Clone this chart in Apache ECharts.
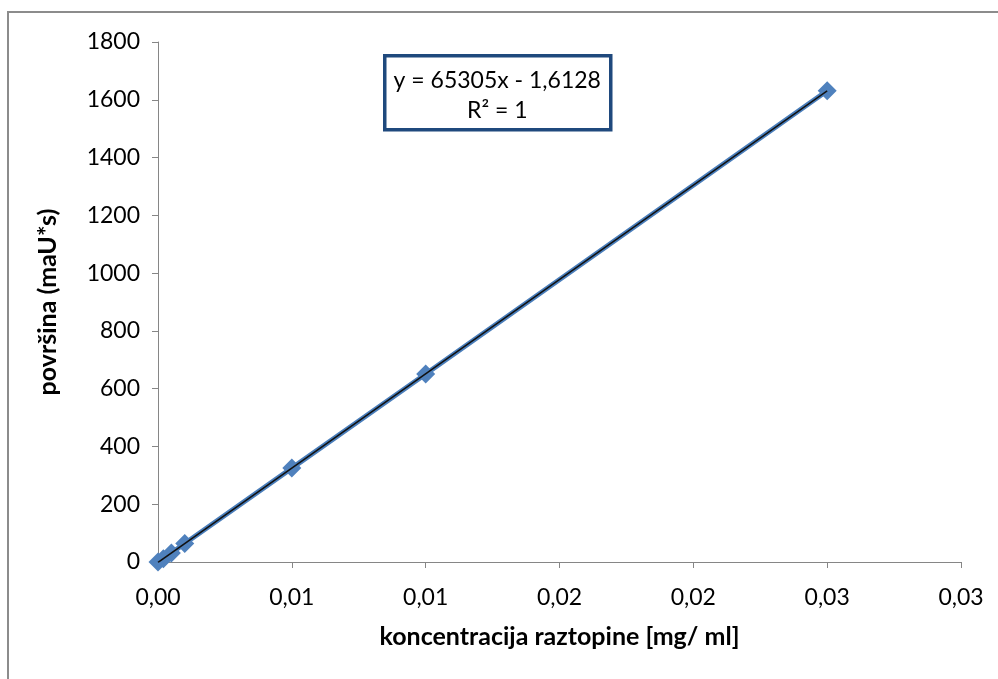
<!DOCTYPE html>
<html>
<head>
<meta charset="utf-8">
<script src="https://cdn.jsdelivr.net/npm/echarts@6/dist/echarts.min.js"></script>
<style>
html,body{margin:0;padding:0;background:#fff;}
#wrap{position:relative;width:998px;height:679px;overflow:hidden;}
#chart{position:absolute;left:0;top:0;width:998px;height:679px;}
#frame{position:absolute;left:7px;top:11px;width:1200px;height:900px;border-left:2px solid #8c8c8c;border-top:2px solid #8c8c8c;pointer-events:none;}
</style>
</head>
<body>
<div id="wrap"><div id="chart"></div><div id="frame"></div></div>
<script>
// Data
const concentration = [0, 0.0002, 0.0005, 0.001, 0.005, 0.01, 0.025];
const area = [0, 11, 31, 64, 325, 651, 1631];
const trendX = [0, 0.025];
const trendY = [-1.6, 1631];
const xTickLabels = ['0,00', '0,01', '0,01', '0,02', '0,02', '0,03', '0,03'];
const yTicks = [0, 200, 400, 600, 800, 1000, 1200, 1400, 1600, 1800];
const equationLines = ['y = 65305x - 1,6128', 'R² = 1'];

const FONT = 'Lato';
const chart = echarts.init(document.getElementById('chart'), null, {renderer: 'canvas'});
const option = {
  animation: false,
  backgroundColor: '#fff',
  grid: {left: 158, right: 37, top: 42, bottom: 117, containLabel: false},
  xAxis: {
    type: 'value', min: 0, max: 0.03, interval: 0.005,
    name: 'koncentracija raztopine [mg/ ml]',
    nameLocation: 'middle', nameGap: 62,
    nameTextStyle: {fontFamily: FONT, fontWeight: 'bold', fontSize: 25, color: '#000'},
    axisLine: {show: true, lineStyle: {color: '#868686', width: 1}},
    axisTick: {show: true, inside: false, length: 6, lineStyle: {color: '#868686'}},
    splitLine: {show: false},
    axisLabel: {
      margin: 24, fontFamily: FONT, fontSize: 23, color: '#000',
      formatter: function (v) { return xTickLabels[Math.round(v / 0.005)] || ''; }
    }
  },
  yAxis: {
    type: 'value', min: yTicks[0], max: yTicks[yTicks.length - 1], interval: 200,
    name: 'površina (maU*s)',
    nameLocation: 'middle', nameGap: 98, nameRotate: 90,
    nameTextStyle: {fontFamily: FONT, fontWeight: 'bold', fontSize: 25, color: '#000'},
    axisLine: {show: true, lineStyle: {color: '#868686', width: 1}},
    axisTick: {show: true, inside: false, length: 6, lineStyle: {color: '#868686'}},
    splitLine: {show: false},
    axisLabel: {margin: 18, fontFamily: FONT, fontSize: 23, color: '#000',
      formatter: function (v) { return String(v); }}
  },
  series: [
    {
      type: 'line',
      data: concentration.map((x, i) => [x, area[i]]),
      symbol: 'diamond', symbolSize: 19,
      itemStyle: {color: '#4F81BD'},
      lineStyle: {color: '#4A7EBB', width: 5},
      clip: false, z: 2
    },
    {
      type: 'line',
      data: trendX.map((x, i) => [x, trendY[i]]),
      symbol: 'none',
      lineStyle: {color: '#111', width: 1.5},
      clip: true, z: 3
    }
  ],
  graphic: [
    {
      type: 'group', left: 383, top: 54,
      children: [
        {type: 'rect', shape: {x: 1.5, y: 1.5, width: 226, height: 74},
         style: {fill: '#fff', stroke: '#1F497D', lineWidth: 3.5}},
        {type: 'text', style: {x: 114, y: 26, text: equationLines[0], textAlign: 'center', textVerticalAlign: 'middle',
          font: '23px ' + FONT, fill: '#000'}},
        {type: 'text', style: {x: 114, y: 56, text: equationLines[1], textAlign: 'center', textVerticalAlign: 'middle',
          font: '23px ' + FONT, fill: '#000'}}
      ]
    }
  ]
};
chart.setOption(option);
</script>
</body>
</html>
